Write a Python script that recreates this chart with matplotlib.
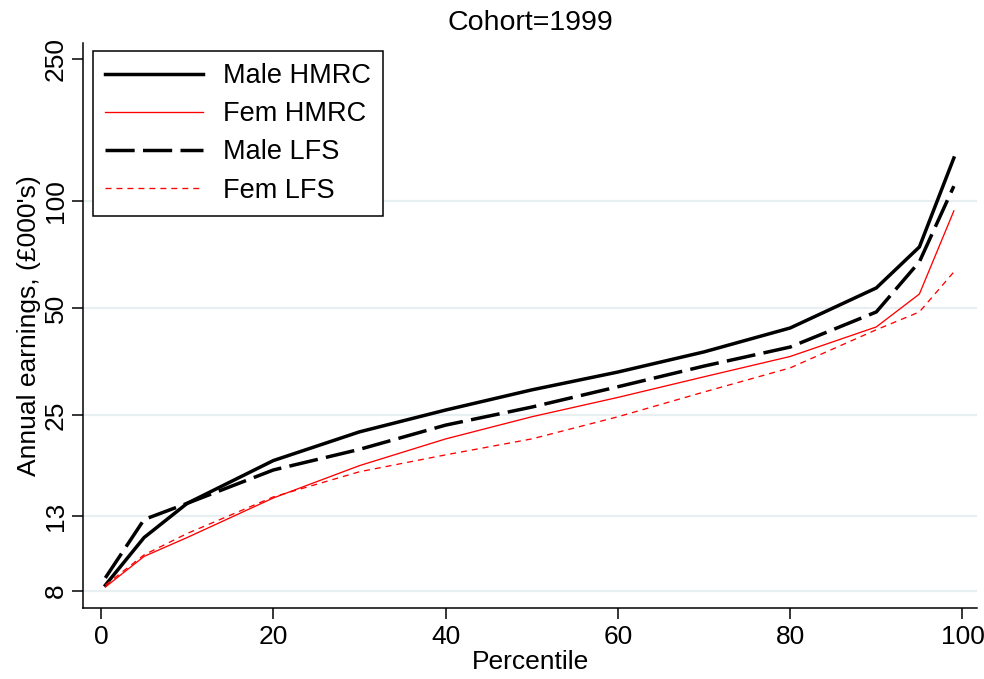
import matplotlib
matplotlib.use("Agg")
import matplotlib.pyplot as plt
from matplotlib.ticker import FixedLocator, FixedFormatter, NullLocator

plt.rcParams['font.family'] = ['Liberation Sans', 'DejaVu Sans']
plt.rcParams['lines.scale_dashes'] = False

# Earnings percentiles (in £000's) for the 1999 cohort
percentile = [0.5, 5, 10, 20, 30, 40, 50, 60, 70, 80, 90, 95, 99]
male_hmrc = [8.3, 11.3, 14.1, 18.6, 22.4, 25.8, 29.4, 33.0, 37.6, 43.9, 56.9, 74.2, 132]
fem_hmrc = [8.2, 10.0, 11.3, 14.6, 18.0, 21.4, 24.7, 28.0, 32.0, 36.5, 44.2, 54.7, 93.7]
male_lfs = [8.7, 12.7, 14.1, 17.5, 20.0, 23.4, 26.3, 30.0, 34.3, 38.8, 48.7, 67.4, 110]
fem_lfs = [8.3, 10.1, 11.6, 14.7, 17.3, 19.3, 21.4, 24.7, 29.0, 33.9, 43.4, 48.7, 63.1]

y_ticks = [8, 13, 25, 50, 100, 250]
y_grid = [8, 13, 25, 50, 100]
x_ticks = [0, 20, 40, 60, 80, 100]

fig = plt.figure(figsize=(9.84, 6.79), dpi=100)
ax = fig.add_axes([0.0843, 0.1046, 0.9087, 0.8321])

ax.set_yscale('log')
ax.set_xlim(-2.1, 101.7)
ax.set_ylim(7.16, 278)

for g in y_grid:
    ax.axhline(g, color='#e8eff1', lw=1.6, zorder=0)

ax.plot(percentile, male_hmrc, color='black', lw=2.5, label='Male HMRC',
        solid_joinstyle='miter')
ax.plot(percentile, fem_hmrc, color='#ff0000', lw=0.95, label='Fem HMRC')
ax.plot(percentile, male_lfs, color='black', lw=2.5, label='Male LFS',
        dashes=(21, 6), dash_capstyle='butt')
ax.plot(percentile, fem_lfs, color='#ff0000', lw=0.95, label='Fem LFS',
        dashes=(4.3, 3.6), dash_capstyle='butt')

ax.yaxis.set_major_locator(FixedLocator(y_ticks))
ax.yaxis.set_major_formatter(FixedFormatter([str(t) for t in y_ticks]))
ax.yaxis.set_minor_locator(NullLocator())
ax.set_xticks(x_ticks)
ax.set_xticklabels([str(t) for t in x_ticks])

for lab in ax.get_yticklabels():
    lab.set_rotation(90)
    lab.set_va('center')

ax.tick_params(axis='both', which='major', labelsize=19, length=8, width=1.1,
               direction='out', color='black', pad=4)
ax.tick_params(axis='y', pad=3)

for side in ('top', 'right'):
    ax.spines[side].set_visible(False)
for side in ('left', 'bottom'):
    ax.spines[side].set_linewidth(1.1)
    ax.spines[side].set_color('black')

ax.set_xlabel('Percentile', fontsize=19, labelpad=1)
ax.set_ylabel("Annual earnings, (£000's)", fontsize=19)
ax.yaxis.set_label_coords(-0.047, 0.5)
ax.set_title('Cohort=1999', fontsize=20.5, pad=9)

leg = ax.legend(loc='upper left', bbox_to_anchor=(0.0112, 0.986), borderaxespad=0,
                fontsize=19.5, handlelength=3.6, handletextpad=0.75,
                labelspacing=0.45, borderpad=0.45, fancybox=False,
                framealpha=1, edgecolor='black')
leg.get_frame().set_linewidth(1.1)

fig.savefig('out.png', dpi=100, facecolor='white')
